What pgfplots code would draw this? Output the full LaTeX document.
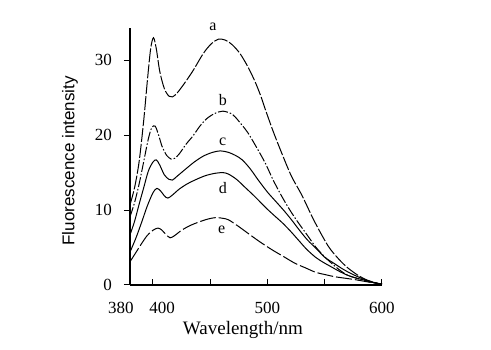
\documentclass[border=0pt]{standalone}
\usepackage{fontspec}
\setmainfont{Liberation Serif}
\newfontfamily\lsans{Liberation Sans}
\usepackage{pgfplots}
\pgfplotsset{compat=1.18}
\begin{document}
\begin{tikzpicture}
\useasboundingbox (-130pt,-65pt) rectangle (361pt,285pt);
\begin{axis}[
  at={(0pt,0pt)}, anchor=south west,
  scale only axis, width=252pt, height=257pt,
  xmin=380, xmax=600, ymin=0, ymax=34.3,
  axis lines*=left,
  axis line style={line width=1.2pt},
  tick align=inside, major tick length=6pt,
  tick style={line width=1pt, black},
  major y tick style={xshift=-6pt},
  xtick={400,450,500,550,600}, xticklabels={,,500,,600},
  ytick={0,10,20,30},
  /pgf/number format/assume math mode=true,
  ticklabel style={font=\fontsize{17}{17}\selectfont},
  xticklabel style={anchor=north, inner sep=0pt, yshift=-17pt},
  yticklabel style={anchor=east, inner sep=0pt, xshift=-18pt},
  xlabel={Wavelength/nm},
  ylabel={Fluorescence intensity},
  xlabel style={font=\fontsize{19}{19}\selectfont, at={(axis description cs:0.448,0)}, anchor=center, yshift=-45pt},
  ylabel style={font=\lsans\fontsize{17}{17}\selectfont, at={(axis description cs:0,0.483)}, anchor=center, yshift=60pt},
  clip=false,
  every axis plot/.append style={black, no markers, line width=1pt, smooth, tension=0.5},
]
\addplot[dash pattern=on 14pt off 2pt] coordinates {
(380,10.7) (384,13) (388,16.5) (392,22) (395,27) (398,31.5) (400.5,33) (403,31.5)
(406,28.5) (410,26.2) (414,25.2) (417,25.1) (421,25.6) (427,26.8) (435,28.6) (444,30.9)
(451,32.2) (457,32.8) (463,32.7) (469,32.1) (476,30.9) (483,29.1) (489,27.2) (494,25.3)
(498,23.5) (505,20.5) (513,17.4) (521,14.5) (530,12.0) (541,8.5) (553,5.2) (562,3.5)
(570,2.3) (580,1.2) (588,0.6) (597,0.2) (600,0.1)};
\addplot[dash pattern=on 10pt off 2pt on 1.5pt off 2pt] coordinates {
(380,9.1) (384,11) (388,13.5) (392,16.5) (396,19.5) (399,21) (402,21.2) (405,20)
(408,18.5) (412,17.3) (416,16.8) (419,16.9) (423,17.5) (429,18.8) (435,19.9) (441,21.2)
(447,22.2) (454,22.9) (461,23.2) (468,22.9) (472,22.4) (478,21.3) (483,20.3) (490,18.5)
(498,16.3) (505,14.0) (513,11.7) (520,9.9) (527,8.3) (535,6.6) (542,5.1) (549,3.9)
(556,2.9) (563,2.0) (570,1.3) (578,0.9) (585,0.6) (593,0.3) (600,0.1)};
\addplot[solid] coordinates {
(380,6.7) (384,8.5) (388,10.8) (392,13) (396,15.2) (400,16.4) (403,16.7) (406,16)
(410,14.7) (414,14.1) (417,14.0) (421,14.5) (428,15.4) (436,16.4) (444,17.2) (452,17.7)
(459,17.9) (466,17.7) (472,17.3) (478,16.7) (485,15.5) (492,14.0) (500,12.4) (507,11.2)
(514,10.0) (521,8.7) (528,7.3) (535,6.0) (543,4.8) (550,3.7) (558,2.9) (565,2.2)
(572,1.6) (579,1.1) (587,0.6) (594,0.3) (600,0.1)};
\addplot[solid] coordinates {
(380,4.4) (385,6.2) (390,8.3) (395,10.5) (400,12.3) (403.5,12.9) (407,12.5) (410,11.9)
(413,11.6) (417,12.0) (423,12.8) (430,13.5) (438,14.1) (446,14.6) (454,14.9) (461,15.0)
(466,14.8) (473,14.1) (480,13.1) (489,11.8) (498,10.4) (505,9.4) (513,8.3) (520,7.2)
(527,6.0) (534,4.8) (542,3.7) (549,3.0) (556,2.4) (563,1.8) (570,1.3) (578,0.9)
(586,0.6) (593,0.3) (600,0.1)};
\addplot[dash pattern=on 16pt off 3pt] coordinates {
(380,3.1) (385,4.3) (390,5.5) (395,6.6) (400,7.3) (404.5,7.6) (408,7.3) (411,6.8)
(415,6.3) (419,6.6) (425,7.3) (432,7.9) (440,8.4) (448,8.8) (455,9.0) (461,8.9)
(466,8.7) (474,7.9) (483,6.9) (493,5.8) (504,4.7) (514,3.8) (524,2.9) (533,2.3)
(542,1.7) (550,1.4) (559,1.1) (568,0.9) (577,0.7) (588,0.4) (600,0.1)};
\node[font=\fontsize{17}{17}\selectfont, anchor=north, inner sep=0pt, yshift=-17pt] at (axis cs:372,0) {380};
\node[font=\fontsize{17}{17}\selectfont, anchor=north, inner sep=0pt, yshift=-17pt] at (axis cs:408,0) {400};
\node[font=\fontsize{16}{16}\selectfont] at (axis cs:452.5,34.4) {a};
\node[font=\fontsize{16}{16}\selectfont] at (axis cs:461,24.7) {b};
\node[font=\fontsize{16}{16}\selectfont] at (axis cs:461,19.1) {c};
\node[font=\fontsize{16}{16}\selectfont] at (axis cs:461,12.9) {d};
\node[font=\fontsize{16}{16}\selectfont] at (axis cs:460,7.3) {e};
\end{axis}
\end{tikzpicture}
\end{document}
